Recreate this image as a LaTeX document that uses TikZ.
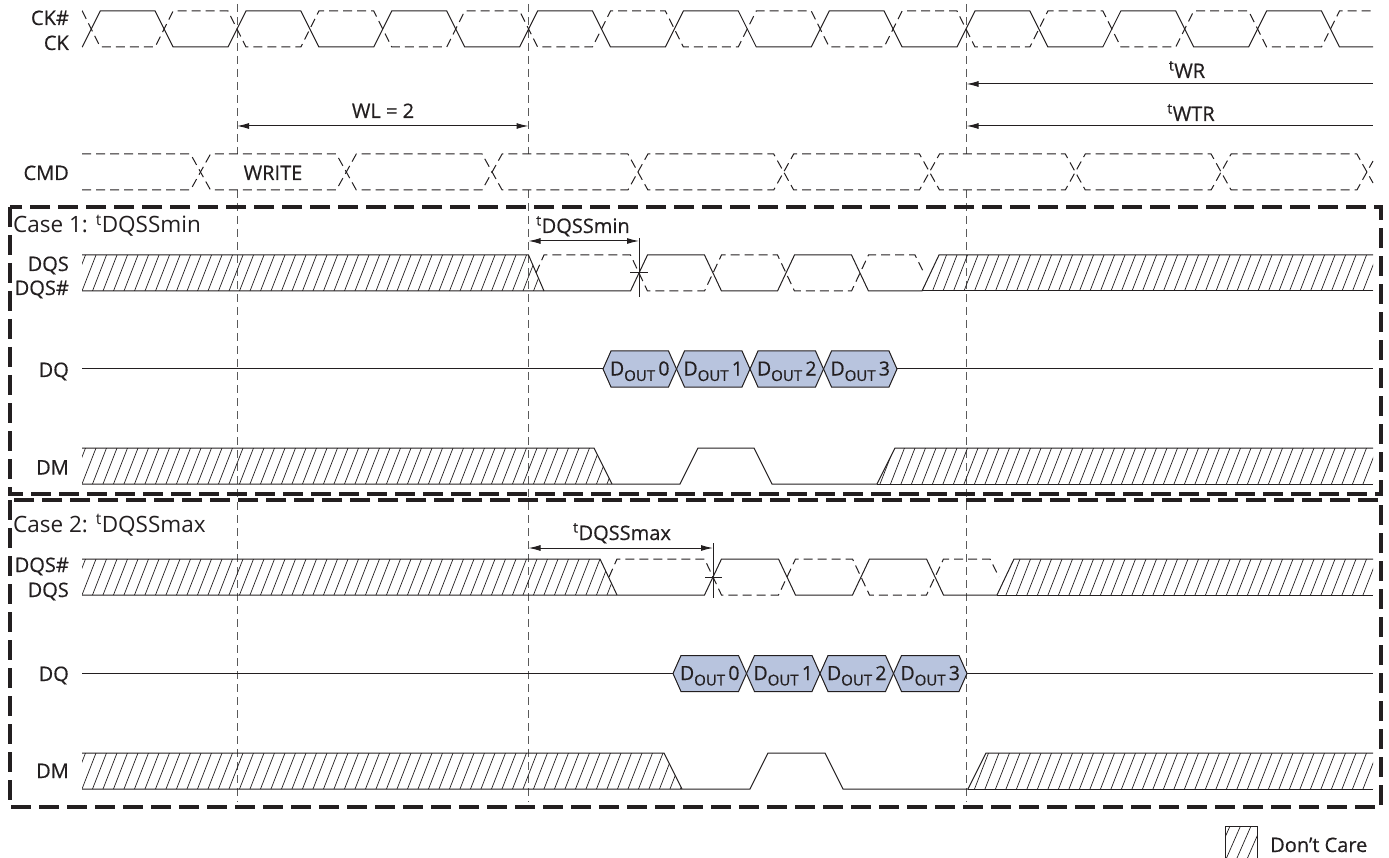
\documentclass[tikz,border=0pt]{standalone}
\usepackage{fontspec}
\setmainfont{Open Sans}
\newfontfamily\sigfont{Open Sans}[FakeBold=0.5]
\usetikzlibrary{arrows.meta}
\definecolor{ink}{HTML}{231F20}
\definecolor{eyefill}{HTML}{B8C4DE}
\definecolor{vgray}{HTML}{5A5A5A}
\tikzset{
  sig/.style={draw=ink, line width=1pt, line join=miter},
  sigd/.style={sig, dash pattern=on 9pt off 5pt},
  vguide/.style={draw=vgray, line width=0.8pt, dash pattern=on 8pt off 5pt},
  hatchln/.style={draw=ink, line width=0.7pt},
  casebox/.style={draw=ink, line width=3.2pt, dash pattern=on 20pt off 8pt},
  dimboth/.style={draw=ink, line width=1pt, {Latex[length=12pt,width=6pt]}-{Latex[length=12pt,width=6pt]}},
  dimleft/.style={draw=ink, line width=1pt, {Latex[length=12pt,width=6pt]}-},
  lbl/.style={text=ink, font=\sigfont\fontsize{20}{23}\selectfont, inner sep=0pt},
  rlbl/.style={lbl, anchor=base east},
  clbl/.style={lbl, anchor=base},
  caselbl/.style={lbl, anchor=base west, font=\fontsize{22.5}{25}\selectfont},
  eyeshape/.style={draw=ink, fill=eyefill, line width=1pt},
  eyelbl/.style={lbl, anchor=base, font=\sigfont\fontsize{19.5}{21}\selectfont},
}
\newcommand\dout[1]{D\raisebox{-0.28em}{\fontsize{15}{15}\selectfont OUT}\,#1}
\newcommand\dcarearea[3]{%
  \begin{scope}
    \clip #1;
    \foreach \hx in {40,50.5,...,1400} \draw[hatchln] (\hx,#3) -- ({\hx+14},#2);
  \end{scope}}
\begin{document}
\begin{tikzpicture}[x=1pt,y=-1pt]
\useasboundingbox (0,0) rectangle (1389,858);

% ---------- vertical guides ----------
\foreach \gx in {237,528.5,966.5} {
  \draw[vguide] (\gx,4) -- (\gx,154);
  \draw[vguide] (\gx,190) -- (\gx,802);
}

% ---------- clock ----------
\node[rlbl] (lck1) at (69,25) {CK\#};
\node[rlbl] (lck2) at (69,50) {CK};
\draw[sig] (82,47) \foreach \i in {0,...,8}{ -- ({82.2+145.8*\i},47) -- ({100.2+145.8*\i},11) -- ({155.1+145.8*\i},11) -- ({173.1+145.8*\i},47) } -- (1373,47);
\draw[sigd] (82,11) \foreach \i in {0,...,8}{ -- ({82.2+145.8*\i},11) -- ({100.2+145.8*\i},47) -- ({155.1+145.8*\i},47) -- ({173.1+145.8*\i},11) } -- (1373,11);

% ---------- timing arrows ----------
\coordinate (twr-l) at (966.5,84);  \coordinate (twr-r) at (1373,84);
\coordinate (twtr-l) at (966.5,126); \coordinate (twtr-r) at (1373,126);
\coordinate (wl-l) at (237,126);     \coordinate (wl-r) at (528.5,126);
\draw[dimleft] (twr-l) -- (twr-r);
\draw[dimleft] (twtr-l) -- (twtr-r);
\draw[dimboth] (wl-l) -- (wl-r);
\node[clbl] (ltwr) at (1187,78) {\textsuperscript{t}WR};
\node[clbl] (ltwtr) at (1191,121) {\textsuperscript{t}WTR};
\node[clbl] (lwl) at (383,118) {WL = 2};

% ---------- command ----------
\node[rlbl] (lcmd) at (69,180) {CMD};
\draw[sigd] (82,154) \foreach \m in {0,...,3}{ -- ({190.5+291.6*\m},154) -- ({210.5+291.6*\m},190) -- ({336.3+291.6*\m},190) -- ({356.3+291.6*\m},154) } -- (1356.9,154) -- (1373,183);
\draw[sigd] (82,190) \foreach \m in {0,...,3}{ -- ({190.5+291.6*\m},190) -- ({210.5+291.6*\m},154) -- ({336.3+291.6*\m},154) -- ({356.3+291.6*\m},190) } -- (1356.9,190) -- (1373,161);
\node[clbl] (lwrite) at (273,180) {WRITE};

% ---------- case boxes ----------
\draw[casebox] (10,207) rectangle (1381,494);
\draw[casebox] (10,500) rectangle (1381,807);
\node[caselbl] (case1) at (13,233) {Case 1: \textsuperscript{t}DQSSmin};
\node[caselbl] (case2) at (13,532) {Case 2: \textsuperscript{t}DQSSmax};

% ---------- case 1 DQS ----------
\node[rlbl] (c1dqs) at (69,271) {DQS};
\node[rlbl] (c1dqsn) at (69,295) {DQS\#};
\dcarearea{(82,255) -- (528.5,255) -- (544,291) -- (82,291) -- cycle}{255}{291}
\dcarearea{(922,291) -- (939,255) -- (1373,255) -- (1373,291) -- cycle}{255}{291}
\draw[sig] (82,255) -- (528.5,255) -- (544,291);
\draw[sig] (82,291) -- (630.5,291) -- (647.5,255) -- (704.5,255) -- (721.5,291) -- (777.5,291) -- (794.5,255) -- (851.5,255) -- (868.5,291) -- (922,291) -- (939,255) -- (1373,255);
\draw[sig] (922,291) -- (1373,291);
\draw[sigd] (536,273) -- (544,255) -- (630.5,255) -- (647.5,291) -- (704.5,291) -- (721.5,255) -- (777.5,255) -- (794.5,291) -- (851.5,291) -- (868.5,255) -- (915,255) -- (924,273);
\coordinate (dmin-l) at (528.5,241); \coordinate (dmin-r) at (639,241);
\draw[sig] (639,238) -- (639,297);
\draw[sig] (630,273) -- (648,273);
\draw[dimboth] (dmin-l) -- (dmin-r);
\node[clbl] (ldmin) at (583,233) {\textsuperscript{t}DQSSmin};

% ---------- case 1 DQ ----------
\node[rlbl] (c1dq) at (69,377) {DQ};
\draw[sig] (82,369) -- (603,369);
\draw[sig] (897,369) -- (1373,369);
\foreach \b [count=\n from 0] in {603,676.5,750,823.5} {
  \draw[eyeshape] (\b,369) -- ({\b+8},351) -- ({\b+65.5},351) -- ({\b+73.5},369) -- ({\b+65.5},387) -- ({\b+8},387) -- cycle;
  \node[eyelbl] (c1d\n) at ({\b+36.75},375.5) {\dout{\n}};
}

% ---------- case 1 DM ----------
\node[rlbl] (c1dm) at (69,474.5) {DM};
\dcarearea{(82,448) -- (594,448) -- (612,484) -- (82,484) -- cycle}{448}{484}
\dcarearea{(877,484) -- (895,448) -- (1373,448) -- (1373,484) -- cycle}{448}{484}
\draw[sig] (82,448) -- (594,448) -- (612,484);
\draw[sig] (82,484) -- (680,484) -- (698,448) -- (754,448) -- (772,484) -- (877,484) -- (895,448) -- (1373,448);
\draw[sig] (877,484) -- (1373,484);

% ---------- case 2 DQS ----------
\node[rlbl] (c2dqsn) at (69,572) {DQS\#};
\node[rlbl] (c2dqs) at (69,597) {DQS};
\dcarearea{(82,559) -- (600,559) -- (617,595) -- (82,595) -- cycle}{559}{595}
\dcarearea{(997,595) -- (1014,559) -- (1373,559) -- (1373,595) -- cycle}{559}{595}
\draw[sig] (82,559) -- (600,559) -- (617,595);
\draw[sig] (82,595) -- (704.5,595) -- (721.5,559) -- (778.5,559) -- (795.5,595) -- (852.5,595) -- (869.5,559) -- (926.5,559) -- (943.5,595) -- (997,595) -- (1014,559) -- (1373,559);
\draw[sig] (997,595) -- (1373,595);
\draw[sigd] (609,577) -- (617,559) -- (704.5,559) -- (721.5,595) -- (778.5,595) -- (795.5,559) -- (852.5,559) -- (869.5,595) -- (926.5,595) -- (943.5,559) -- (990,559) -- (999,577);
\coordinate (dmax-l) at (528.5,548); \coordinate (dmax-r) at (713,548);
\draw[sig] (713,543) -- (713,598);
\draw[sig] (705,577) -- (722,577);
\draw[dimboth] (dmax-l) -- (dmax-r);
\node[clbl] (ldmax) at (622,540) {\textsuperscript{t}DQSSmax};

% ---------- case 2 DQ ----------
\node[rlbl] (c2dq) at (69,681) {DQ};
\draw[sig] (82,673.5) -- (673,673.5);
\draw[sig] (967,673.5) -- (1373,673.5);
\foreach \b [count=\n from 0] in {673,746.5,820,893.5} {
  \draw[eyeshape] (\b,673.5) -- ({\b+8},655.5) -- ({\b+65.5},655.5) -- ({\b+73.5},673.5) -- ({\b+65.5},691.5) -- ({\b+8},691.5) -- cycle;
  \node[eyelbl] (c2d\n) at ({\b+36.75},680) {\dout{\n}};
}

% ---------- case 2 DM ----------
\node[rlbl] (c2dm) at (69,778) {DM};
\dcarearea{(82,753) -- (664,753) -- (682,789) -- (82,789) -- cycle}{753}{789}
\dcarearea{(968,789) -- (986,753) -- (1373,753) -- (1373,789) -- cycle}{753}{789}
\draw[sig] (82,753) -- (664,753) -- (682,789);
\draw[sig] (82,789) -- (750,789) -- (768,753) -- (825,753) -- (843,789) -- (968,789) -- (986,753) -- (1373,753);
\draw[sig] (968,789) -- (1373,789);

% ---------- legend ----------
\dcarearea{(1225,826) rectangle (1257,858)}{826}{858}
\draw[sig] (1225,826) rectangle (1257,858);
\node[lbl, anchor=base west] (ldc) at (1270,852) {Don’t Care};
\end{tikzpicture}
\end{document}
